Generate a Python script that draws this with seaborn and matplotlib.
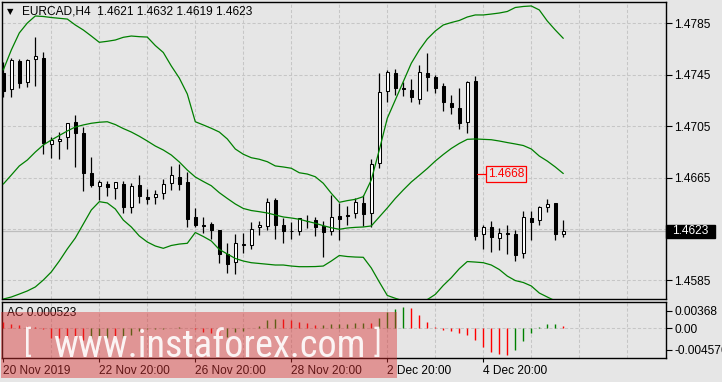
import numpy as np
import pandas as pd
import matplotlib
matplotlib.use("Agg")
import matplotlib.pyplot as plt
from matplotlib import font_manager
from matplotlib.patches import Rectangle
import seaborn as sns

sns.set_theme(style="white")
BG = "#e6e6e6"
avail = {f.name for f in font_manager.fontManager.ttflist}
BASE = "Liberation Sans" if "Liberation Sans" in avail else "DejaVu Sans"
plt.rcParams["font.family"] = [BASE, "DejaVu Sans"]
WM_FONT = next((f for f in ["Liberation Sans Narrow", "Roboto Condensed", "Open Sans Condensed"] if f in avail), None)

# ---------------- data ----------------
opens = [1.47466, 1.47341, 1.47557, 1.47396, 1.47570, 1.47580, 1.46911, 1.46932, 1.46963, 1.47082,
         1.46996, 1.46685, 1.46586, 1.46599, 1.46566, 1.46599, 1.46423, 1.46592, 1.46498, 1.46496,
         1.46527, 1.46610, 1.46656, 1.46613, 1.46343, 1.46280, 1.46288, 1.46241, 1.46052, 1.45990,
         1.46127, 1.46122, 1.46262, 1.46270, 1.46473, 1.46278, 1.46234, 1.46236, 1.46311, 1.46317,
         1.46275, 1.46236, 1.46350, 1.46358, 1.46371, 1.46452, 1.46376, 1.46761, 1.47321, 1.47466,
         1.47344, 1.47331, 1.47259, 1.47466, 1.47430, 1.47362, 1.47227, 1.47189, 1.47080, 1.47401,
         1.46208, 1.46267, 1.46177, 1.46220, 1.46210, 1.46060, 1.46335, 1.46317, 1.46420, 1.46452,
         1.46210]
highs = [1.47549, 1.47578, 1.47570, 1.47572, 1.47746, 1.47627, 1.46963, 1.47004, 1.47075, 1.47136,
         1.47045, 1.46812, 1.46631, 1.46623, 1.46615, 1.46620, 1.46610, 1.46669, 1.46558, 1.46553,
         1.46636, 1.46740, 1.46755, 1.46695, 1.46410, 1.46345, 1.46306, 1.46243, 1.46138, 1.46210,
         1.46216, 1.46304, 1.46314, 1.46488, 1.46493, 1.46332, 1.46306, 1.46334, 1.46358, 1.46340,
         1.46311, 1.46516, 1.46449, 1.46428, 1.46488, 1.46514, 1.46792, 1.47466, 1.47487, 1.47494,
         1.47396, 1.47417, 1.47525, 1.47617, 1.47448, 1.47388, 1.47292, 1.47344, 1.47403, 1.47440,
         1.46280, 1.46309, 1.46255, 1.46278, 1.46241, 1.46389, 1.46389, 1.46428, 1.46480, 1.46454,
         1.46320]
lows = [1.47279, 1.47279, 1.47349, 1.47357, 1.47364, 1.46833, 1.46802, 1.46796, 1.46874, 1.46734,
        1.46547, 1.46578, 1.46475, 1.46506, 1.46483, 1.46376, 1.46376, 1.46449, 1.46441, 1.46441,
        1.46485, 1.46553, 1.46553, 1.46267, 1.46267, 1.46216, 1.46174, 1.45982, 1.45904, 1.45897,
        1.46060, 1.46096, 1.46203, 1.46241, 1.46174, 1.46143, 1.46171, 1.46203, 1.46255, 1.46197,
        1.46034, 1.46203, 1.46164, 1.46283, 1.46337, 1.46273, 1.46267, 1.46722, 1.47240, 1.47292,
        1.47284, 1.47240, 1.47222, 1.47323, 1.47310, 1.47170, 1.47144, 1.47025, 1.46999, 1.46164,
        1.46094, 1.46073, 1.46086, 1.46052, 1.46003, 1.46026, 1.46164, 1.46280, 1.46384, 1.46164,
        1.46190]
closes = [1.47325, 1.47564, 1.47388, 1.47562, 1.47593, 1.46921, 1.46939, 1.46950, 1.47072, 1.46999,
          1.46687, 1.46594, 1.46615, 1.46578, 1.46613, 1.46418, 1.46584, 1.46508, 1.46485, 1.46522,
          1.46597, 1.46669, 1.46597, 1.46329, 1.46283, 1.46275, 1.46244, 1.46057, 1.45979, 1.46138,
          1.46132, 1.46247, 1.46278, 1.46457, 1.46283, 1.46236, 1.46232, 1.46332, 1.46309, 1.46267,
          1.46228, 1.46340, 1.46329, 1.46354, 1.46457, 1.46368, 1.46753, 1.47315, 1.47471, 1.47349,
          1.47342, 1.47279, 1.47469, 1.47434, 1.47349, 1.47240, 1.47201, 1.47072, 1.47393, 1.46195,
          1.46262, 1.46189, 1.46216, 1.46208, 1.46047, 1.46340, 1.46306, 1.46423, 1.46446, 1.46213,
          1.46230]

bb_upper = [1.47487, 1.47642, 1.47775, 1.47852, 1.47907, 1.47903, 1.47895, 1.47889, 1.47883, 1.47837,
            1.47798, 1.47751, 1.47702, 1.47710, 1.47720, 1.47741, 1.47751, 1.47746, 1.47743, 1.47677,
            1.47623, 1.47518, 1.47424, 1.47300, 1.47084, 1.47059, 1.47033, 1.47004, 1.46950, 1.46872,
            1.46831, 1.46804, 1.46792, 1.46773, 1.46740, 1.46732, 1.46722, 1.46687, 1.46677, 1.46656,
            1.46605, 1.46527, 1.46457, 1.46470, 1.46480, 1.46501, 1.46631, 1.46864, 1.47111, 1.47253,
            1.47396, 1.47539, 1.47642, 1.47728, 1.47790, 1.47837, 1.47856, 1.47872, 1.47899, 1.47915,
            1.47915, 1.47922, 1.47930, 1.47942, 1.47973, 1.47981, 1.47985, 1.47954, 1.47868, 1.47798,
            1.47733]
bb_middle = [1.46599, 1.46669, 1.46740, 1.46786, 1.46848, 1.46903, 1.46942, 1.46977, 1.47012, 1.47043,
             1.47059, 1.47072, 1.47080, 1.47084, 1.47062, 1.47031, 1.47004, 1.46971, 1.46934, 1.46895,
             1.46864, 1.46825, 1.46771, 1.46708, 1.46654, 1.46619, 1.46586, 1.46532, 1.46487, 1.46444,
             1.46409, 1.46393, 1.46384, 1.46374, 1.46358, 1.46343, 1.46335, 1.46325, 1.46309, 1.46294,
             1.46275, 1.46259, 1.46247, 1.46257, 1.46262, 1.46265, 1.46273, 1.46343, 1.46413, 1.46487,
             1.46553, 1.46615, 1.46667, 1.46720, 1.46778, 1.46829, 1.46876, 1.46915, 1.46947, 1.46950,
             1.46947, 1.46944, 1.46934, 1.46922, 1.46911, 1.46899, 1.46872, 1.46817, 1.46778, 1.46732,
             1.46681]
bb_lower = [1.45704, 1.45720, 1.45743, 1.45767, 1.45798, 1.45852, 1.45915, 1.46000, 1.46094, 1.46179,
            1.46288, 1.46397, 1.46462, 1.46452, 1.46405, 1.46319, 1.46265, 1.46195, 1.46148, 1.46117,
            1.46099, 1.46121, 1.46132, 1.46138, 1.46222, 1.46191, 1.46156, 1.46090, 1.46055, 1.46020,
            1.46000, 1.45987, 1.45981, 1.45975, 1.45969, 1.45969, 1.45961, 1.45956, 1.45956, 1.45957,
            1.45961, 1.46000, 1.46043, 1.46035, 1.46031, 1.46029, 1.45946, 1.45837, 1.45732, 1.45710,
            1.45690, 1.45680, 1.45680, 1.45700, 1.45740, 1.45810, 1.45870, 1.45940, 1.45996, 1.45992,
            1.45987, 1.45969, 1.45934, 1.45883, 1.45848, 1.45833, 1.45806, 1.45751, 1.45720, 1.45690,
            1.45660]

ac_values = [0.00127, 0.00085, 0.00071, 0.00057, 0.00028, -0.00021, -0.00198, -0.00212, -0.00219, -0.00233,
             -0.00247, -0.00233, -0.00212, -0.00205, -0.00226, -0.00198, -0.00141, -0.00057, -0.00021, -0.00011,
             -0.00007, -0.00004, 0.00021, 0.00007, -0.00007, -0.00071, -0.00092, -0.00212, -0.00177, -0.00071,
             -0.00057, 0.00014, 0.00057, 0.00177, 0.00198, 0.00191, 0.00177, 0.00141, 0.00106, 0.00071,
             0.00078, 0.00085, 0.00092, 0.00099, 0.00106, 0.00113, 0.00106, 0.00212, 0.00339, 0.00410,
             0.00445, 0.00438, 0.00283, 0.00141, 0.00021, -0.00035, -0.00057, -0.00106, -0.00141, -0.00247,
             -0.00389, -0.00509, -0.00544, -0.00566, -0.00460, -0.00262, -0.00106, 0.00021, 0.00085, 0.00092,
             0.000523]

price_ticks = [1.4785, 1.4745, 1.4705, 1.4665, 1.4625, 1.4585]
price_tick_labels = ["1.4785", "1.4745", "1.4705", "1.4665", "", "1.4585"]
ac_ticks = [0.00368, 0.0, -0.004576]
ac_tick_labels = ["0.00368", "0.00", "-0.004576"]
date_labels = ["20 Nov 2019", "22 Nov 20:00", "26 Nov 20:00", "28 Nov 20:00", "2 Dec 20:00", "4 Dec 20:00"]
date_label_bars = [0, 12, 24, 36, 48, 60]
symbol_title = "EURCAD,H4  1.4621 1.4632 1.4619 1.4623"
last_price = 1.4623
marked_price = 1.4668
marked_bar = 59
ac_title = "AC 0.000523"
watermark = "www.instaforex.com"

n = len(closes)
df = pd.DataFrame({"bar": np.arange(n), "open": opens, "high": highs, "low": lows, "close": closes,
                   "upper": bb_upper, "middle": bb_middle, "lower": bb_lower, "ac": ac_values})

# ---------------- layout ----------------
W, H = 722, 382
fig = plt.figure(figsize=(W / 100, H / 100), dpi=100, facecolor=BG)

def frac(l, t, r, b):
    return [l / W, 1 - b / H, (r - l) / W, (b - t) / H]

ax = fig.add_axes(frac(2.3, 2, 666, 299))
ax2 = fig.add_axes(frac(2.3, 302.3, 666, 357.7))
XMIN, XMAX = -0.125, 82.84
GRID_C = "#c6c6c6"
DASH = (0, (3, 2))

for a in (ax, ax2):
    a.set_facecolor(BG)
    a.set_xlim(XMIN, XMAX)
    for s in a.spines.values():
        s.set_color("black")
        s.set_linewidth(1.0)
    for k in range(6, 83, 6):
        a.axvline(k, color=GRID_C, lw=0.75, ls=DASH, zorder=0)

# main panel
ax.set_ylim(1.457045, 1.480158)
for yv in price_ticks:
    ax.axhline(yv, color=GRID_C, lw=0.75, ls=DASH, zorder=0)
ax.axhline(last_price, color="#bdbdbd", lw=0.9, zorder=0.5)

up = df["close"] >= df["open"]
ax.vlines(df["bar"], df["low"], df["high"], color="black", lw=0.9, zorder=3)
ax.bar(df["bar"], (df["close"] - df["open"]).abs(), bottom=np.minimum(df["open"], df["close"]),
       width=0.4, color=np.where(up, "white", "black"), edgecolor="black", linewidth=0.75, zorder=4)

for col in ["upper", "middle", "lower"]:
    sns.lineplot(data=df, x="bar", y=col, ax=ax, color="#008000", lw=0.9, zorder=5)

ax.set_xlabel("")
ax.set_ylabel("")
ax.set_xticks([])
ax.yaxis.tick_right()
ax.set_yticks(price_ticks)
ax.set_yticklabels(price_tick_labels)
ax.tick_params(axis="y", right=True, left=False, direction="out", length=4, width=0.8,
               pad=2, labelsize=8.6, colors="black")

# last price box on the scale
ytr = ax.get_yaxis_transform()
half = 6.5 * (1.480158 - 1.457045) / 297
ax.add_patch(Rectangle((1.0, last_price - half), 49 / 663.7, 2 * half, transform=ytr,
                       facecolor="black", edgecolor="black", clip_on=False, zorder=6))
ax.text(1.0 + 6 / 663.7, last_price, f"{last_price:.4f}", transform=ytr, color="white",
        fontsize=8.6, va="center", ha="left", zorder=7, clip_on=False)

# red price marker
ax.plot([marked_bar + 0.23, marked_bar + 1.34], [marked_price, marked_price], color="red", lw=0.9, zorder=6)
ax.text(marked_bar + 1.6, marked_price, f"{marked_price:.4f}", color="red", fontsize=8.6,
        va="center", ha="left", zorder=7,
        bbox=dict(boxstyle="square,pad=0.17", fc=BG, ec="red", lw=0.9))

# sub panel (Accelerator Oscillator)
ax2.set_ylim(-0.00623, 0.00551)
ax2.axhline(0, color=GRID_C, lw=0.75, ls=DASH, zorder=0)
rising = np.diff(df["ac"].to_numpy(), prepend=df["ac"].iloc[0] + 1) > 0
ax2.vlines(df["bar"], 0, df["ac"], colors=np.where(rising, "#008000", "#ff0000"), lw=1.0, zorder=3)
ax2.yaxis.tick_right()
ax2.set_yticks(ac_ticks)
ax2.set_yticklabels(ac_tick_labels)
ax2.tick_params(axis="y", right=True, left=False, direction="out", length=4, width=0.8,
                pad=2, labelsize=8.6, colors="black")
ax2.set_xticks(date_label_bars)
ax2.set_xticklabels(date_labels, ha="left")
ax2.tick_params(axis="x", bottom=True, direction="out", length=3, width=0.8, pad=2,
                labelsize=8.6, colors="black")

# titles
fig.text(7 / W, 1 - 12 / H, "\u25BC", fontsize=6, va="center", ha="left", color="black",
         family=["DejaVu Sans"])
fig.text(21.5 / W, 1 - 12 / H, symbol_title, fontsize=8.6, va="center", ha="left", color="black")
fig.text(7.3 / W, 1 - 313.5 / H, ac_title, fontsize=8.6, va="center", ha="left", color="black")

# watermark overlay
ov = fig.add_axes([0, 0, 1, 1], zorder=10)
ov.set_xlim(0, W)
ov.set_ylim(H, 0)
ov.axis("off")
ov.patch.set_alpha(0)
ov.add_patch(Rectangle((1, 312), 396, 66, facecolor=(0.85, 0.2, 0.2), alpha=0.45, edgecolor="none"))
if WM_FONT:
    wm_fam, wm_size = WM_FONT, 27.5
else:
    wm_fam, wm_size = BASE, 22.4
ov.text(53, 357, watermark, fontsize=wm_size, family=wm_fam, color="white", alpha=0.9,
        va="baseline", ha="left")
ov.text(24, 352, "[", fontsize=22, family=wm_fam, color="white", alpha=0.9, va="baseline", ha="left")
ov.text(374, 352, "]", fontsize=22, family=wm_fam, color="white", alpha=0.9, va="baseline", ha="left")

fig.savefig("out.png", dpi=100, facecolor=BG)
